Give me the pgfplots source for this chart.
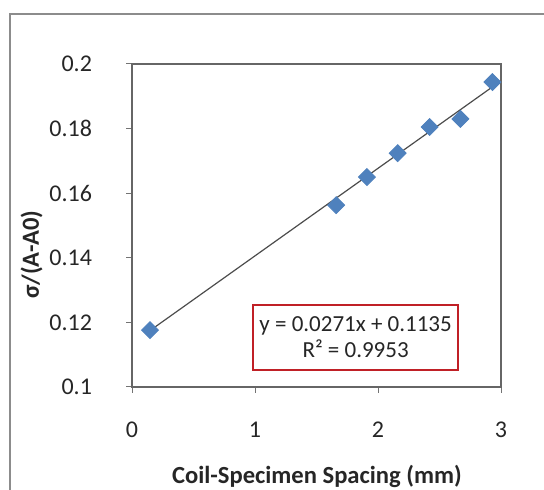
\documentclass[border=0pt]{standalone}
\usepackage{pgfplots}
\pgfplotsset{compat=1.18}
\usepackage{fontspec}
\setmainfont{Carlito}
\definecolor{exblue}{RGB}{79,129,189}
\definecolor{exred}{RGB}{192,32,38}
\begin{document}
\begin{tikzpicture}
\useasboundingbox (0pt,0pt) rectangle (272pt,245pt);
\draw[black!45, line width=1pt] (5pt,-10pt) -- (5pt,238pt) -- (290pt,238pt);
\begin{axis}[
  at={(66pt,51.5pt)}, anchor=south west,
  scale only axis, width=184.5pt, height=161.5pt,
  xmin=0, xmax=3, ymin=0.1, ymax=0.2,
  xtick={0,1,2,3}, xticklabels={0,1,2,3},
  ytick={0.1,0.12,0.14,0.16,0.18,0.2},
  yticklabels={0.1,0.12,0.14,0.16,0.18,0.2},
  xtick pos=left, ytick pos=left,
  tick align=outside, major tick length=3pt,
  tick style={black!55, line width=0.5pt},
  axis line style={black!60, line width=0.6pt},
  /pgf/number format/assume math mode=true,
  ticklabel style={font=\fontsize{12}{14}\selectfont, text=black!85},
  xticklabel style={yshift=-11pt},
  yticklabel style={xshift=-13.5pt},
  xlabel={\bfseries Coil-Specimen Spacing (mm)},
  ylabel={\bfseries σ/(A-A0)},
  label style={font=\fontsize{12.3}{14}\selectfont, text=black!85},
  xlabel style={at={(axis description cs:0.501,-0.277)}, anchor=center},
  ylabel style={at={(axis description cs:-0.272,0.409)}, anchor=center, rotate=0},
  clip=false,
]
\addplot[black!70, line width=0.6pt] coordinates {(0.15,0.117565) (2.93,0.192903)};
\addplot[only marks, mark=square*, mark size=3pt, mark options={rotate=45, fill=exblue, draw=exblue}] coordinates {
(0.146,0.1176) (1.66,0.1563) (1.91,0.1650) (2.16,0.1724) (2.42,0.1805) (2.67,0.1830) (2.93,0.1944)};
\node[draw=exred, line width=0.8pt, fill=white, minimum width=102.5pt, minimum height=32.5pt, align=center, inner sep=1pt,
  font=\fontsize{11.5}{13}\selectfont, text=black!85] at (axis description cs:0.606,0.153)
  {y = 0.0271x + 0.1135\\R² = 0.9953};
\end{axis}
\end{tikzpicture}
\end{document}
